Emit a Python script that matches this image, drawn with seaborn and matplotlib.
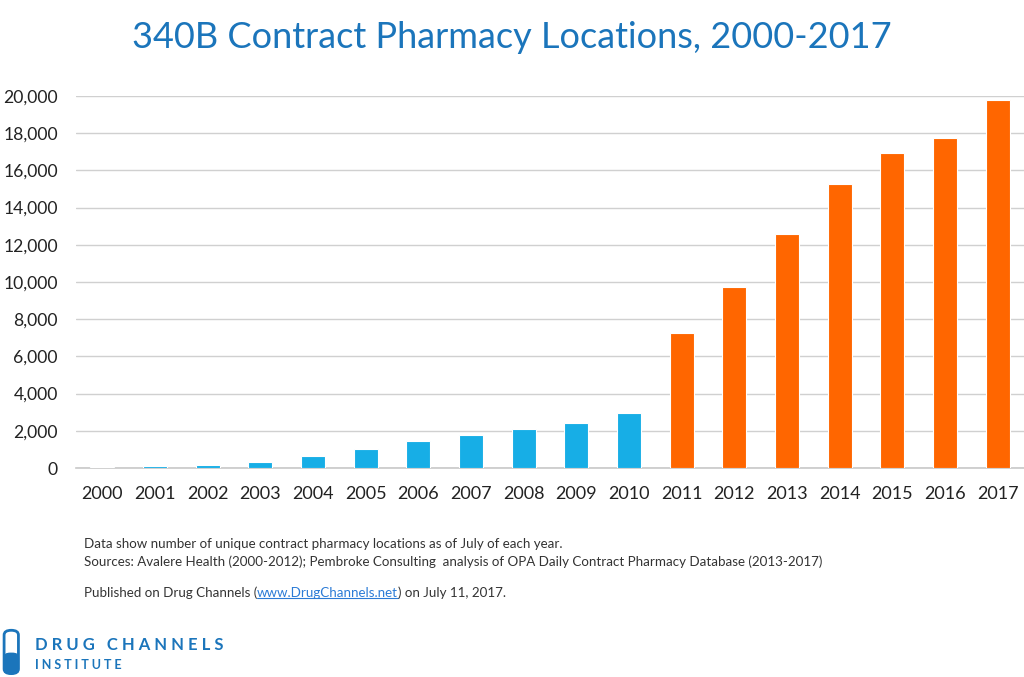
import matplotlib
matplotlib.use("Agg")
import matplotlib.pyplot as plt
from matplotlib.patches import FancyBboxPatch
import pandas as pd
import seaborn as sns

years = [str(y) for y in range(2000, 2018)]
locations = [70, 125, 180, 340, 660, 1040, 1450, 1775, 2100, 2420, 2940,
             7260, 9730, 12580, 15290, 16940, 17740, 19800]
source = ["Avalere"] * 11 + ["Pembroke"] * 7

BLUE = "#17aee6"
ORANGE = "#ff6600"
TITLE_BLUE = "#1b75bb"

df = pd.DataFrame({"year": years, "locations": locations, "source": source})

sns.set_theme(style="white")
plt.rcParams["font.family"] = ["Lato", "DejaVu Sans"]

fig = plt.figure(figsize=(10.24, 6.77), dpi=100)
ax = fig.add_axes([0.0742, 0.3087, 0.9258, 0.5495])

sns.barplot(data=df, x="year", y="locations", hue="source",
            palette={"Avalere": BLUE, "Pembroke": ORANGE}, saturation=1,
            dodge=False, width=0.45, legend=False, ax=ax,
            edgecolor="white", linewidth=0.8, zorder=3)

ax.set_ylim(0, 20000)
ax.set_xlim(-0.5, 17.5)
ax.set_yticks(range(0, 20001, 2000))
ax.set_yticklabels([f"{v:,}" for v in range(0, 20001, 2000)])
ax.yaxis.grid(True, color="#d0d0d0", linewidth=1, zorder=0)
ax.set_axisbelow(True)
for s in ["top", "right", "left"]:
    ax.spines[s].set_visible(False)
ax.spines["bottom"].set_color("#c8c8c8")
ax.spines["bottom"].set_linewidth(1.2)
ax.tick_params(axis="both", length=0, labelsize=13, colors="#222222")
ax.tick_params(axis="x", pad=13)
ax.tick_params(axis="y", labelsize=12.6, pad=13)
ax.set_xlabel("")
ax.set_ylabel("")

fig.text(0.5, 0.944, "340B Contract Pharmacy Locations, 2000-2017",
         ha="center", va="center", fontsize=26, color=TITLE_BLUE)

foot = dict(fontsize=9.6, color="#333333", ha="left", va="center")
fig.text(0.082, 0.196, "Data show number of unique contract pharmacy locations as of July of each year.", **foot)
fig.text(0.082, 0.171, "Sources: Avalere Health (2000-2012); Pembroke Consulting  analysis of OPA Daily Contract Pharmacy Database (2013-2017)", **foot)

# published line: place the pieces one after another
fig.canvas.draw()
r = fig.canvas.get_renderer()
x0 = 0.082
for txt, col, under in [("Published on Drug Channels (", "#333333", False),
                        ("www.DrugChannels.net", "#2b7bd6", True),
                        (") on July 11, 2017.", "#333333", False)]:
    t = fig.text(x0, 0.124, txt, fontsize=9.6, color=col, ha="left", va="center")
    bb = t.get_window_extent(r).transformed(fig.transFigure.inverted())
    if under:
        fig.add_artist(plt.Line2D([bb.x0, bb.x1], [bb.y0 + 0.001, bb.y0 + 0.001],
                                  color=col, linewidth=0.8,
                                  transform=fig.transFigure))
    x0 = bb.x1

# logo
fig.patches.append(FancyBboxPatch((0.004, 0.005), 0.014, 0.064,
                                  boxstyle="round,pad=0,rounding_size=0.007",
                                  transform=fig.transFigure, facecolor="white",
                                  edgecolor=TITLE_BLUE, linewidth=2))
fig.patches.append(FancyBboxPatch((0.004, 0.005), 0.014, 0.03,
                                  boxstyle="round,pad=0,rounding_size=0.006",
                                  transform=fig.transFigure,
                                  facecolor=TITLE_BLUE, edgecolor=TITLE_BLUE))
fig.text(0.034, 0.048, "D R U G   C H A N N E L S", fontsize=12, color=TITLE_BLUE,
         ha="left", va="center", fontweight="bold")
fig.text(0.034, 0.017, "I N S T I T U T E", fontsize=9, color=TITLE_BLUE,
         ha="left", va="center", fontweight="bold")

fig.savefig("out.png", dpi=100)
